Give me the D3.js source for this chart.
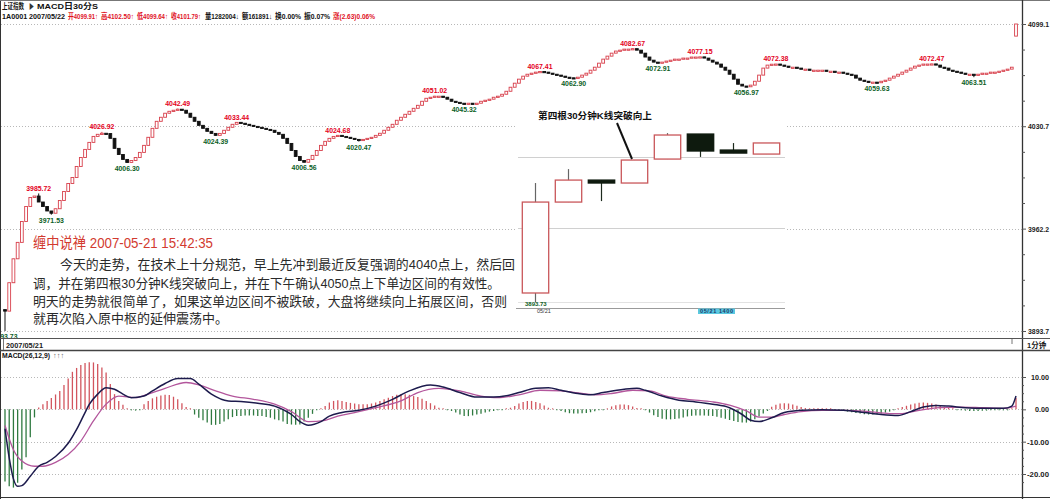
<!DOCTYPE html>
<html><head><meta charset="utf-8">
<script src="https://cdn.jsdelivr.net/npm/d3@7"></script>
<style>
html,body{margin:0;padding:0;background:#fff;}
svg{display:block;}
text{font-family:"Liberation Sans","Noto Sans CJK SC",sans-serif;}
</style></head><body>
<svg id="c" width="1050" height="499"></svg>
<script>
// ---------------- DATA ----------------
// 1-minute closes, 2007-05-21 (240 bars) + closing jump bar
const closes = [
3907,3926,3942,3953,3967,3977,3983,3984,3980,3977,
3974,3972.5,3975.5,3981,3987,3992.4,3996.4,4003.8,4009.8,4015.2,
4019.9,4023.9,4025.3,4026,4025.8,4022.6,4015.9,4011.8,4008.5,4006.5,
4007.8,4009.8,4013.2,4017.9,4023.3,4029.3,4034,4036.7,4039.4,4040.7,
4041.4,4042.1,4041.4,4039.4,4036.7,4034,4031.3,4029.3,4027.3,4025.9,
4024.6,4025.9,4028,4030,4032,4033.3,4032.7,4032,4031.3,4030.6,
4030,4029.3,4028.6,4028,4026.6,4025.3,4022.6,4019.2,4014.5,4010.5,
4007.8,4006.6,4008.5,4011.2,4014.5,4017.9,4020.6,4022.6,4023.9,4024.6,
4023.9,4023.3,4022.6,4021.9,4021.2,4021.9,4022.6,4023.3,4024.6,4026,
4028,4030,4032,4034.7,4036.7,4038.7,4040.7,4042.7,4044.7,4047.4,
4049.4,4050.1,4050.8,4050.8,4050.1,4048.8,4047.4,4046.7,4046.1,4045.4,
4046.1,4045.4,4046.1,4047.4,4048.1,4048.8,4050.1,4050.8,4052.1,4054.1,
4056.8,4059.5,4062.2,4064.2,4065.5,4066.2,4066.9,4067.3,4066.9,4066.2,
4065.5,4064.9,4064.2,4063.5,4063.1,4063.0,4063.5,4064.9,4066.2,4068.2,
4070.2,4072.9,4075.6,4077.6,4079.6,4081,4081.6,4082.3,4082.3,4082.6,
4081.6,4079.6,4077,4074.9,4073.6,4073.0,4073.6,4074.3,4074.9,4075.6,
4075.6,4076.3,4076.3,4077,4077,4077.1,4076.3,4074.9,4073.6,4072.3,
4070.2,4068.2,4065.5,4062.2,4058.8,4057.6,4057.1,4058.2,4060.8,4064.9,
4069.6,4071.6,4072.2,4072.3,4071.6,4070.9,4070.2,4070.2,4069.6,4068.9,
4068.9,4068.2,4068.2,4068.2,4068.2,4067.5,4067.5,4066.9,4066.9,4066.2,
4065.5,4064.9,4062.9,4061.5,4060.8,4060.2,4060.2,4059.8,4060.8,4061.5,
4062.9,4064.2,4065.5,4066.9,4068.2,4069.6,4070.9,4071.6,4072.3,4072.3,
4072.4,4071.6,4070.2,4069.6,4068.2,4067.5,4066.9,4066.2,4065.5,4065.5,
4064.9,4065.5,4066.2,4066.2,4066.9,4066.9,4067.5,4068.2,4068.9,4070.2,
4099.1
];
const firstOpen = 3908;
const lastOpen = 4091;
// labelled highs / lows: [bar index, value, kind]
const extremes = [
[0,3893.73,"L"],[8,3985.72,"H"],[11,3971.53,"L"],[23,4026.92,"H"],[29,4006.30,"L"],
[41,4042.49,"H"],[50,4024.39,"L"],[55,4033.44,"H"],[71,4006.56,"L"],[79,4024.68,"H"],
[84,4020.47,"L"],[102,4051.02,"H"],[109,4045.32,"L"],[127,4067.41,"H"],[135,4062.90,"L"],
[149,4082.67,"H"],[155,4072.91,"L"],[165,4077.15,"H"],[176,4056.97,"L"],[183,4072.38,"H"],
[207,4059.63,"L"],[220,4072.47,"H"],[230,4063.51,"L"]
];
// MACD histogram per bar
const hist = [
-22.3,-23.8,-24.2,-22.7,-18.6,-14.8,-8.6,-2.5,
0.6,1.6,2.6,3.5,4.6,5.7,7.5,9.5,11.6,12.8,13.7,14.3,14.6,14.5,14.0,12.9,11.4,7.8,4.7,2.6,1.4,0.3,
-0.3,-0.4,-0.2,
1.6,2.6,3.4,3.9,4.3,4.5,4.4,3.9,3.1,1.9,0.7,0.1,
-1.6,-2.6,-3.4,-4.1,-4.8,-4.8,-4.5,-3.8,-3.1,-2.4,-2.1,-2.1,-1.9,-1.9,-1.9,-2.1,-2.1,-2.4,-2.6,-3.1,-3.4,-3.8,-4.5,-4.7,-4.8,-4.7,-3.8,-2.6,-1.4,-0.3,
0.3,
1.0,2.1,2.6,2.8,2.6,2.3,2.0,1.8,1.6,1.6,1.6,1.8,2.1,2.6,3.1,3.6,4.1,4.5,4.7,4.7,4.5,4.1,3.8,3.3,2.6,1.9,1.2,0.5,
0.1,-0.2,
-0.5,
-1.0,-1.6,-2.1,-2.1,-1.9,-1.6,-1.4,-1.0,-0.7,-0.5,-0.3,-0.1,
0.2,0.5,1.0,1.8,2.3,2.6,2.6,2.3,1.9,1.2,0.5,
0.1,-0.1,
-0.5,-0.9,-1.2,-1.3,-1.3,-1.2,-1.1,-0.9,-0.6,-0.3,
-0.1,0.1,
0.9,1.3,1.5,1.5,1.3,0.9,0.4,
0.1,-0.2,
-1.0,-1.8,-2.4,-2.9,-3.1,-3.1,-3.0,-2.8,-2.5,-2.2,-2.0,-1.9,-1.9,-1.9,-2.0,-2.1,-2.3,-2.6,-2.9,-3.3,-3.6,-3.9,-4.1,-4.1,-3.8,-3.1,-2.2,-1.3,-0.5,
0.8,1.4,1.8,1.9,1.8,1.5,1.1,0.7,
0.4,0.3,0.2,0.2,0.1,0.1,0.0,-0.1,
-0.3,-0.5,-0.7,-0.9,-1.1,-1.3,-1.5,-1.6,-1.6,-1.5,-1.3,-1.0,-0.7,-0.3,
0.3,0.7,1.1,1.5,1.8,2.0,2.1,2.0,1.8,1.5,1.2,0.8,0.5,0.3,
-0.2,-0.3,-0.4,-0.5,-0.5,-0.5,-0.4,-0.4,-0.3,-0.3,-0.2,-0.2,-0.1,0.1,
3.5
];
// DIF / DEA readings: [bar index, value]
const difPts = [
[0,-6],[1,-15],[2,-21.5],[3,-23.8],[4,-23.6],[6,-20.7],[8,-17.6],[10,-16.4],[12,-14.6],[15,-10.5],
[17,-6.2],[19,-1.0],[20,1.5],[22,4.7],[24,6.7],[26,6.2],[28,4.7],[30,3.6],[33,4.1],[35,5.7],
[38,8.0],[41,9.5],[44,9.5],[46,7.8],[49,4.7],[53,2.6],[56,2.4],[60,1.9],[64,1.0],[68,-1.6],
[70,-3.8],[72,-4.9],[75,-3.8],[77,-2.1],[80,-1.0],[84,-0.3],[88,1.0],[92,3.1],[96,5.7],[101,7.5],
[104,6.9],[108,5.2],[112,3.8],[116,3.8],[119,4.2],[122,5.2],[126,6.5],[129,6.7],[132,5.9],[136,4.9],
[139,4.5],[142,5.2],[147,6.2],[150,6.5],[152,5.9],[156,4.1],[160,2.8],[164,2.3],[168,1.6],[172,0.5],
[175,-1.6],[177,-3.4],[179,-3.8],[182,-2.6],[185,-1.0],[189,-0.3],[194,-0.1],[199,-0.3],[204,-1.0],[208,-1.6],
[212,-1.9],[215,-0.7],[218,0.7],[221,1.2],[224,1.0],[228,0.5],[232,0.3],[237,0.3],[239,1.0],[240,4.1]
];
const deaPts = [
[0,-5],[2,-12.5],[4,-16],[7,-17.6],[9,-17.6],[12,-16.4],[15,-14],[18,-9.8],[21,-3.6],[24,1.6],
[27,4.1],[31,3.6],[34,4.7],[38,6.5],[43,8.3],[46,7.6],[50,5.7],[54,4.1],[59,3.1],[64,1.6],
[68,-0.7],[72,-3.8],[76,-3.4],[79,-2.1],[83,-1.0],[88,0.5],[94,2.6],[98,5.2],[103,6.5],[108,5.7],
[113,4.1],[117,3.6],[122,4.5],[127,5.9],[132,5.7],[136,5.1],[140,4.5],[144,4.9],[149,5.9],[153,5.7],
[157,4.1],[162,3.1],[168,2.3],[172,1.3],[176,-0.5],[179,-2.4],[182,-2.4],[185,-1.6],[189,-0.7],[194,-0.3],
[200,-0.3],[205,-0.7],[210,-1.3],[213,-1.3],[217,-0.3],[222,0.5],[227,0.7],[232,0.5],[237,0.3],[240,1.0]
];
const priceTicks = [4099.1, 4030.7, 3962.2, 3893.7];
const macdTicks = [10, 0, -10, -20];
// inset: eight 30-minute bars
const insetOpen  = [3903.8, 4005.5, 4030.1, 4026.8, 4053.6, 4081.6, 4063.7, 4059.2];
const insetHigh  = [4026.8, 4042.4, 4030.1, 4052.5, 4082.67, 4081.6, 4071.5, 4071.6];
const insetLow   = [3893.73, 4005.5, 4006.6, 4026.8, 4053.6, 4056.0, 4060.3, 4059.2];
const insetClose = [4005.5, 4030.1, 4026.8, 4052.5, 4080.5, 4062.6, 4060.3, 4071.6];
// texts
const header1 = ["上证指数", "▶", "MACD日30分S"];
const header2 = ["1A0001 2007/05/22","开4099.91↑","高4102.50↑","低4099.64↑","收4101.79↑","量1282004↓","额161891↓","换0.00%","振0.07%","涨(2.63)0.06%"];
const header2Red = [false,true,true,true,true,false,false,false,false,true];
const noteTitle = "缠中说禅 2007-05-21 15:42:35";
const noteLines = [
"今天的走势，在技术上十分规范，早上先冲到最近反复强调的4040点上，然后回",
"调，并在第四根30分钟K线突破向上，并在下午确认4050点上下单边区间的有效性。",
"明天的走势就很简单了，如果这单边区间不被跌破，大盘将继续向上拓展区间，否则",
"就再次陷入原中枢的延伸震荡中。"
];
const insetNote = "第四根30分钟K线突破向上";
const dateLabel = "2007/05/21";
const periodLabel = "1分钟";
const macdTitle = "MACD(26,12,9)";

// ---------------- DRAW ----------------
const svg = d3.select("#c");
const W = 1050, H = 499, AX = 1022;
const RED = "#d8404c", BLK = "#111", LRED = "#e3001b", LGRN = "#0b5e1e";

const x = d3.scaleLinear().domain([0, 240]).range([5, 1016]);
const y = d3.scaleLinear().domain([3893.7, 4099.1]).range([331, 24]);
const ym = d3.scaleLinear().domain([-20, 10]).range([474, 377]);

// grid lines
const g = svg.append("g");
g.selectAll(".pg").data(priceTicks).enter().append("line")
  .attr("x1", 1).attr("x2", AX).attr("y1", d => Math.round(y(d)) + .5).attr("y2", d => Math.round(y(d)) + .5)
  .attr("stroke", "#b8b8b8").attr("stroke-dasharray", "1,2");
g.selectAll(".mg").data(macdTicks).enter().append("line")
  .attr("x1", 1).attr("x2", AX).attr("y1", d => Math.round(ym(d)) + .5).attr("y2", d => Math.round(ym(d)) + .5)
  .attr("stroke", "#b8b8b8").attr("stroke-dasharray", "1,2");

// candles
const hiMap = {}, loMap = {};
extremes.forEach(e => { if (e[2] === "H") hiMap[e[0]] = e[1]; else loMap[e[0]] = e[1]; });
const bars = closes.map((c, i) => {
  const o = i === 0 ? firstOpen : (i === 240 ? lastOpen : closes[i - 1]);
  let hi = Math.max(o, c), lo = Math.min(o, c);
  if (hiMap[i] !== undefined) hi = Math.max(hi, hiMap[i]);
  if (loMap[i] !== undefined) lo = Math.min(lo, loMap[i]);
  return { i, o, c, hi, lo, up: c >= o };
});
const cg = svg.append("g");
cg.selectAll(".wk").data(bars).enter().append("line")
  .attr("x1", d => x(d.i)).attr("x2", d => x(d.i))
  .attr("y1", d => y(d.hi)).attr("y2", d => y(d.lo))
  .attr("stroke", d => d.up ? RED : BLK).attr("stroke-width", 1);
cg.selectAll(".bd").data(bars).enter().append("rect")
  .attr("x", d => x(d.i) - 1.4).attr("width", 2.8)
  .attr("y", d => Math.min(y(d.o), y(d.c)))
  .attr("height", d => Math.max(1.2, Math.abs(y(d.o) - y(d.c))))
  .attr("fill", d => d.up ? "#fff" : BLK)
  .attr("stroke", d => d.up ? RED : BLK).attr("stroke-width", 0.9);

// extreme labels
svg.append("g").selectAll("text").data(extremes).enter().append("text")
  .attr("x", d => x(d[0])).attr("y", d => d[2] === "H" ? y(d[1]) - 2.5 : y(d[1]) + 8)
  .attr("text-anchor", "middle").attr("font-size", 7.2).attr("font-weight", "bold")
  .attr("textLength", 25).attr("lengthAdjust", "spacingAndGlyphs")
  .attr("fill", d => d[2] === "H" ? LRED : LGRN)
  .text(d => d[1].toFixed(2));

// note text
svg.append("text").attr("x", 33).attr("y", 247.5).attr("font-size", 15)
  .attr("font-family", "Noto Sans CJK SC").attr("fill", "#d23a2f")
  .attr("textLength", 180).attr("lengthAdjust", "spacingAndGlyphs").text(noteTitle);
const lineX = [60, 33, 33, 33], lineY = [268.5, 288, 306, 323], lineLen = [455, 467, 474, null];
noteLines.forEach((t, k) => {
  const tx = svg.append("text").attr("x", lineX[k]).attr("y", lineY[k]).attr("font-size", 13)
    .attr("font-family", "Noto Sans CJK SC").attr("fill", "#2a2a2a").text(t);
  if (lineLen[k]) tx.attr("textLength", lineLen[k]).attr("lengthAdjust", "spacingAndGlyphs");
});

// inset
const ins = svg.append("g");
ins.append("rect").attr("x", 516).attr("y", 104).attr("width", 270).attr("height", 214).attr("fill", "#fff");
const iy = d3.scaleLinear().domain([3893.73, 4042.49]).range([302, 169]);
const ix = d3.scaleBand().domain(d3.range(insetOpen.length)).range([519, 783]).paddingInner(0.2).paddingOuter(0.1);
[157, 228].forEach(v => ins.append("line").attr("x1", 518).attr("x2", 785).attr("y1", v + .5).attr("y2", v + .5).attr("stroke", "#d0d0d0"));
ins.append("line").attr("x1", 518).attr("x2", 785).attr("y1", 302.5).attr("y2", 302.5).attr("stroke", "#e2e2e2");
ins.append("line").attr("x1", 516).attr("x2", 785).attr("y1", 308.5).attr("y2", 308.5).attr("stroke", "#9a9a9a");
const ib = insetOpen.map((o, k) => ({ k, o, h: insetHigh[k], l: insetLow[k], c: insetClose[k], up: insetClose[k] >= o }));
ins.selectAll(".iw").data(ib).enter().append("line")
  .attr("x1", d => ix(d.k) + ix.bandwidth() / 2).attr("x2", d => ix(d.k) + ix.bandwidth() / 2)
  .attr("y1", d => iy(d.h)).attr("y2", d => iy(d.l))
  .attr("stroke", d => d.up ? "#666" : "#1d2a1d").attr("stroke-width", 1.2);
ins.selectAll(".ir").data(ib).enter().append("rect")
  .attr("x", d => ix(d.k)).attr("width", ix.bandwidth())
  .attr("y", d => Math.min(iy(d.o), iy(d.c)))
  .attr("height", d => Math.max(2.5, Math.abs(iy(d.o) - iy(d.c))))
  .attr("fill", d => d.up ? "#fff" : "#0e1a0e")
  .attr("stroke", d => d.up ? "#c9575a" : "#0e1a0e").attr("stroke-width", 1.3);
ins.append("text").attr("x", 538).attr("y", 119).attr("font-size", 9.5).attr("font-weight", "bold")
  .attr("fill", "#111").attr("textLength", 114).attr("lengthAdjust", "spacingAndGlyphs").text(insetNote);
ins.append("line").attr("x1", 617).attr("y1", 123).attr("x2", 632).attr("y2", 159)
  .attr("stroke", "#111").attr("stroke-width", 2);
ins.append("text").attr("x", 525).attr("y", 306).attr("font-size", 6).attr("font-weight", "bold")
  .attr("fill", LGRN).text(insetLow[0].toFixed(2));
ins.append("text").attr("x", 537).attr("y", 313).attr("font-size", 5.5).attr("fill", "#333").text("05/21");
ins.append("rect").attr("x", 698).attr("y", 308.5).attr("width", 37).attr("height", 5.5).attr("fill", "#5bc8e0");
ins.append("text").attr("x", 700).attr("y", 313).attr("font-size", 5.5).attr("font-weight", "bold")
  .attr("fill", "#1a3a6a").attr("textLength", 33).text("05/21 1400");

// MACD histogram
svg.append("g").selectAll("line").data(hist).enter().append("line")
  .attr("x1", (d, i) => x(i)).attr("x2", (d, i) => x(i))
  .attr("y1", ym(0))
  .attr("y2", d => Math.abs(ym(d) - ym(0)) < 1 ? ym(0) + (d >= 0 ? -1 : 1) : ym(d))
  .attr("stroke", d => d >= 0 ? "#d2555e" : "#2f7a40").attr("stroke-width", 1.3);
const ln = d3.line().x(d => x(d[0])).y(d => ym(d[1])).curve(d3.curveMonotoneX);
svg.append("path").attr("d", ln(deaPts)).attr("fill", "none").attr("stroke", "#b3569c").attr("stroke-width", 1.3);
svg.append("path").attr("d", ln(difPts)).attr("fill", "none").attr("stroke", "#1d1b4d").attr("stroke-width", 1.5);

// frame
const fr = svg.append("g").attr("stroke", "#333");
fr.append("line").attr("x1", .5).attr("x2", .5).attr("y1", 0).attr("y2", H);
fr.append("line").attr("x1", 0).attr("x2", W).attr("y1", .5).attr("y2", .5).attr("stroke", "#777");
fr.append("line").attr("x1", AX + .5).attr("x2", AX + .5).attr("y1", 0).attr("y2", H).attr("stroke-width", 1.3);
fr.append("line").attr("x1", 0).attr("x2", W).attr("y1", 338.5).attr("y2", 338.5).attr("stroke", "#555");
fr.append("line").attr("x1", 0).attr("x2", W).attr("y1", 350.5).attr("y2", 350.5).attr("stroke", "#444").attr("stroke-width", 1.6);
fr.append("line").attr("x1", 0).attr("x2", W).attr("y1", 497.5).attr("y2", 497.5).attr("stroke", "#333");
fr.append("line").attr("x1", 3.5).attr("x2", 3.5).attr("y1", 339).attr("y2", 350).attr("stroke", "#777");
fr.append("line").attr("x1", x(240) - 4).attr("x2", x(240) - 4).attr("y1", 339).attr("y2", 344).attr("stroke", "#777");

// axes
const pAxis = svg.append("g").attr("transform", `translate(${AX},0)`)
  .call(d3.axisRight(y).tickValues(priceTicks).tickSize(4).tickPadding(2).tickFormat(d => d.toFixed(1)));
const subP = d3.range(priceTicks.length - 1).flatMap(k => [1, 2, 3].map(q => priceTicks[k] + (priceTicks[k + 1] - priceTicks[k]) * q / 4));
svg.append("g").attr("transform", `translate(${AX},0)`)
  .call(d3.axisRight(y).tickValues(subP).tickSize(3).tickFormat(""));
const mAxis = svg.append("g").attr("transform", `translate(${AX},0)`)
  .call(d3.axisRight(ym).tickValues(macdTicks).tickSize(4).tickPadding(2).tickFormat(d => d.toFixed(2)));
const subM = [7.5, 5, 2.5, -2.5, -5, -7.5, -12.5, -15, -17.5, -22.5];
svg.append("g").attr("transform", `translate(${AX},0)`)
  .call(d3.axisRight(ym).tickValues(subM).tickSize(2).tickFormat(""));
svg.selectAll(".domain").remove();
svg.selectAll(".tick line").attr("stroke", "#555");
[pAxis, mAxis].forEach(a => a.selectAll("text").attr("font-size", 7.5).attr("font-weight", "bold")
  .attr("fill", "#222").attr("font-family", "Liberation Sans Narrow, Liberation Sans"));
pAxis.selectAll("text").attr("x", 6).attr("textLength", 21).attr("lengthAdjust", "spacingAndGlyphs");
mAxis.selectAll("text").attr("text-anchor", "end").attr("x", 1049 - AX)
  .attr("textLength", d => d < 0 ? 22 : (d >= 10 ? 18 : 14)).attr("lengthAdjust", "spacingAndGlyphs");

// header
const h1x = [2, 29, 37], h1w = [22, 5, 61];
header1.forEach((t, k) => svg.append("text").attr("x", h1x[k]).attr("y", 9).attr("font-size", 7.5).attr("font-weight", "bold")
  .attr("fill", k === 1 ? "#333" : "#111").attr("textLength", h1w[k]).attr("lengthAdjust", "spacingAndGlyphs").text(t));
const h2x = [2, 68, 101, 137, 171, 205, 242, 275, 304, 333], h2w = [63, 30, 33, 31, 30, 34, 30, 26, 26, 42];
header2.forEach((t, k) => svg.append("text").attr("x", h2x[k]).attr("y", 19).attr("font-size", 7.5).attr("font-weight", "bold")
  .attr("fill", header2Red[k] ? "#e0101e" : "#111").attr("textLength", h2w[k]).attr("lengthAdjust", "spacingAndGlyphs").text(t));

// strip and panel labels
svg.append("text").attr("x", 6).attr("y", 347.5).attr("font-size", 7.5).attr("font-weight", "bold").attr("fill", "#222")
  .attr("textLength", 37).attr("lengthAdjust", "spacingAndGlyphs").text(dateLabel);
svg.append("text").attr("x", 1027).attr("y", 347.5).attr("font-size", 7.5).attr("font-weight", "bold").attr("fill", "#222")
  .text(periodLabel);
svg.append("text").attr("x", 2).attr("y", 358).attr("font-size", 7.5).attr("font-weight", "bold").attr("fill", "#111")
  .attr("textLength", 48).attr("lengthAdjust", "spacingAndGlyphs").text(macdTitle);
svg.append("text").attr("x", 53).attr("y", 358).attr("font-size", 7.5).attr("fill", "#666").text("↑↑↑");
</script>
</body></html>
